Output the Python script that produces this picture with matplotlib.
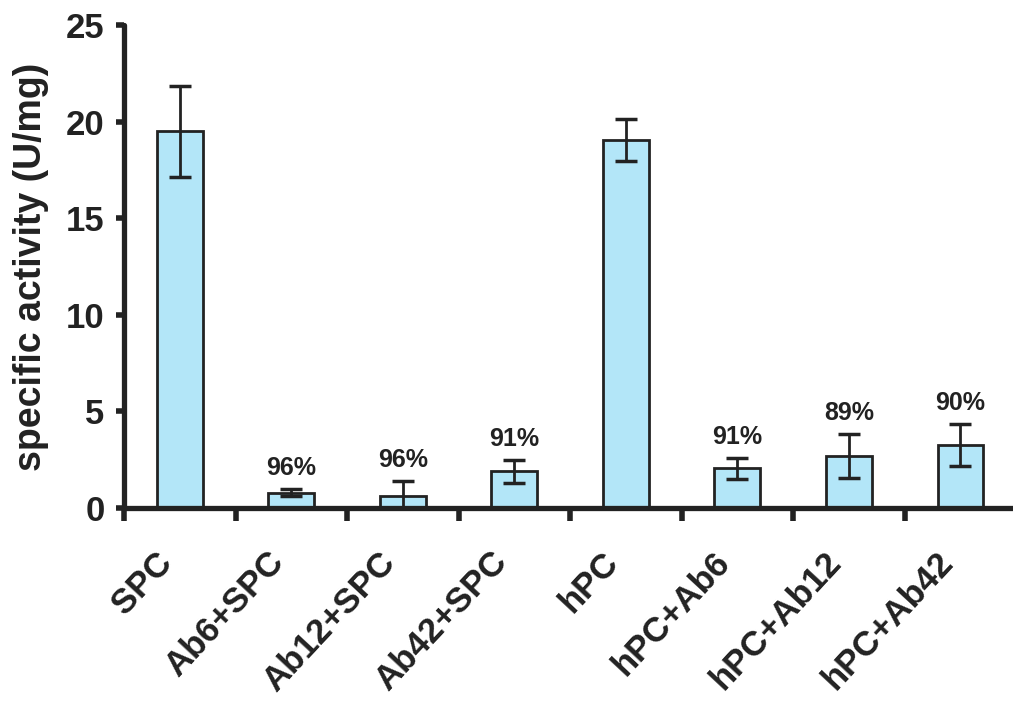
import numpy as np
import matplotlib
matplotlib.use("Agg")
import matplotlib.pyplot as plt
from matplotlib.transforms import ScaledTranslation

plt.rcParams['font.family'] = ['Liberation Sans', 'DejaVu Sans']
plt.rcParams['font.weight'] = 'bold'

# Activity per sample with standard deviation and percent inhibition
samples = ['SPC', 'Ab6+SPC', 'Ab12+SPC', 'Ab42+SPC',
           'hPC', 'hPC+Ab6', 'hPC+Ab12', 'hPC+Ab42']
activity = [19.5, 0.8, 0.6, 1.9, 19.05, 2.05, 2.7, 3.25]
sd = [2.35, 0.2, 0.8, 0.6, 1.1, 0.55, 1.15, 1.1]
inhibition = ['', '96%', '96%', '91%', '', '91%', '89%', '90%']

ink = '#222222'
fig = plt.figure(figsize=(10.13, 7.13), dpi=100)
ax = fig.add_axes([0.1224, 0.2875, 0.8807, 0.6775])

x = np.arange(len(samples))
ax.bar(x, activity, width=0.41, color='#b3e6f8', edgecolor=ink, linewidth=2, zorder=2)
ax.errorbar(x, activity, yerr=sd, fmt='none', ecolor=ink, elinewidth=2,
            capsize=8, capthick=2.5, zorder=3)

# percent inhibition above each treated sample
for xi, v, e, lab in zip(x, activity, sd, inhibition):
    if lab:
        ax.text(xi, v + e + 0.45, lab, ha='center', va='bottom',
                fontsize=18, fontweight='bold', color=ink)

ax.set_xlim(-0.5, 7.5)
ax.set_ylim(0, 25)
ax.set_yticks([0, 5, 10, 15, 20, 25])
ax.set_xticks(np.arange(-0.5, 8.0, 1.0))
ax.set_xticklabels([])
ax.set_xticks(x, minor=True)
ax.set_xticklabels(samples, minor=True, rotation=47, ha='right',
                   rotation_mode='anchor', fontsize=25, fontweight='bold', color=ink)
ax.tick_params(axis='x', which='minor', length=0, pad=22)
ax.tick_params(axis='x', which='major', direction='out', length=9, width=4, color=ink)
ax.tick_params(axis='y', direction='out', length=6, width=4, color=ink,
               labelsize=25, labelcolor=ink, pad=8)
for lbl in ax.get_yticklabels():
    lbl.set_fontweight('bold')

# slide the slanted names down and to the left of their bars
shift = ScaledTranslation(-0.25, -0.07, fig.dpi_scale_trans)
for lbl in ax.get_xticklabels(minor=True):
    lbl.set_transform(lbl.get_transform() + shift)

for side in ['top', 'right']:
    ax.spines[side].set_visible(False)
for side in ['left', 'bottom']:
    ax.spines[side].set_linewidth(3.8)
    ax.spines[side].set_color(ink)
    ax.spines[side].set_capstyle('round')

ax.set_ylabel('specific activity (U/mg)', fontsize=27, fontweight='bold',
              color=ink, labelpad=12)

fig.savefig('out.png', dpi=100)
